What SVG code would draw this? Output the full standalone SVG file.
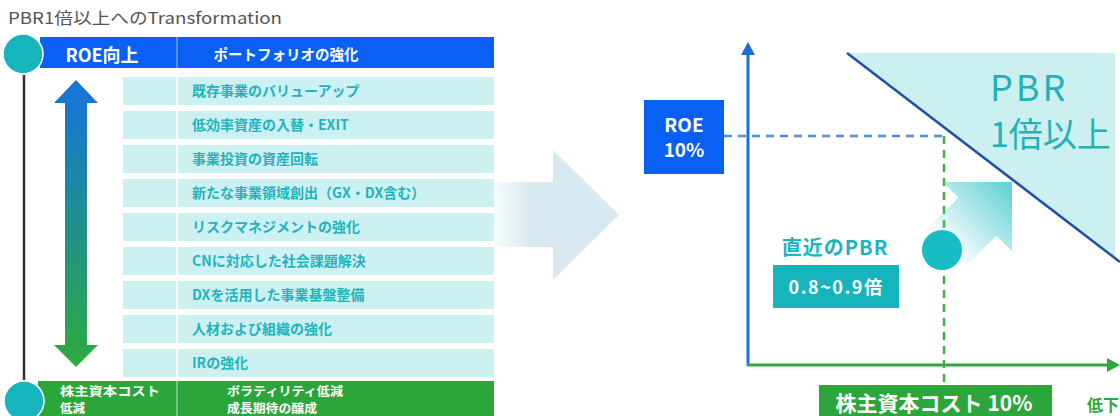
<svg xmlns="http://www.w3.org/2000/svg" width="1120" height="416" viewBox="0 0 1120 416">
<defs>
<style>
text{font-family:"Noto Sans CJK JP","Noto Sans",sans-serif}
.row{fill:#cdf0f0}
.rt{font-size:14px;font-weight:700;fill:#22b4be}
.wt{fill:#fff;font-weight:700}
.div{stroke:#fff;stroke-width:2}
</style>
<linearGradient id="dbl" x1="0" y1="80" x2="0" y2="367" gradientUnits="userSpaceOnUse">
<stop offset="0" stop-color="#1573dd"/>
<stop offset="1" stop-color="#2fab3f"/>
</linearGradient>
<linearGradient id="big" x1="494" y1="0" x2="530" y2="0" gradientUnits="userSpaceOnUse">
<stop offset="0" stop-color="#d8eaf0" stop-opacity="0.2"/>
<stop offset="1" stop-color="#d8eaf0"/>
</linearGradient>
<linearGradient id="diag" x1="0" y1="0" x2="-95" y2="0" gradientUnits="userSpaceOnUse">
<stop offset="0" stop-color="#5ccfd5"/>
<stop offset="1" stop-color="#5ccfd5" stop-opacity="0"/>
</linearGradient>
</defs>

<text x="8" y="24" font-size="16" fill="#555" textLength="274" lengthAdjust="spacingAndGlyphs">PBR1倍以上へのTransformation</text>

<g id="connectors">
<line x1="24" y1="75" x2="24" y2="380" stroke="#333" stroke-width="2.5"/>
<polygon points="76,80 98,103 87,103 87,345 98,345 76,367 54,345 65,345 65,103 54,103" fill="url(#dbl)"/>
<polygon points="494,182 553,182 553,150 619,215 553,280 553,247 494,247" fill="url(#big)"/>
</g>

<g id="top-bar">
<rect x="40" y="37" width="454" height="31" fill="#0a5ff5"/>
<line x1="177" y1="37" x2="177" y2="68" stroke="#6fa3ff" stroke-width="1.5"/>
<text class="wt" x="102" y="62" font-size="18" text-anchor="middle">ROE向上</text>
<text class="wt" x="286" y="60" font-size="14.5" text-anchor="middle">ポートフォリオの強化</text>
<circle cx="23" cy="54" r="20" fill="#16b5bd" stroke="#fff" stroke-width="1.5"/>
</g>

<g id="rows">
<rect class="row" x="123" y="77" width="371" height="28"/>
<rect class="row" x="123" y="111" width="371" height="28"/>
<rect class="row" x="123" y="145" width="371" height="28"/>
<rect class="row" x="123" y="179" width="371" height="28"/>
<rect class="row" x="123" y="213" width="371" height="28"/>
<rect class="row" x="123" y="247" width="371" height="28"/>
<rect class="row" x="123" y="281" width="371" height="28"/>
<rect class="row" x="123" y="315" width="371" height="28"/>
<rect class="row" x="123" y="349" width="371" height="28"/>
<line class="div" x1="177" y1="77" x2="177" y2="377"/>
<text class="rt" x="192" y="96">既存事業のバリューアップ</text>
<text class="rt" x="192" y="130">低効率資産の入替・EXIT</text>
<text class="rt" x="192" y="164">事業投資の資産回転</text>
<text class="rt" x="192" y="198">新たな事業領域創出（GX・DX含む）</text>
<text class="rt" x="192" y="232">リスクマネジメントの強化</text>
<text class="rt" x="192" y="266">CNに対応した社会課題解決</text>
<text class="rt" x="192" y="300">DXを活用した事業基盤整備</text>
<text class="rt" x="192" y="334">人材および組織の強化</text>
<text class="rt" x="192" y="368">IRの強化</text>
</g>

<g id="bottom-bar">
<rect x="38" y="381" width="456" height="35" fill="#2ba63b"/>
<line x1="177" y1="381" x2="177" y2="416" stroke="#8fd19a" stroke-width="1.5"/>
<text class="wt" x="60" y="396" font-size="12.5" textLength="100" lengthAdjust="spacingAndGlyphs">株主資本コスト</text>
<text class="wt" x="60" y="413" font-size="12.5">低減</text>
<text class="wt" x="227" y="396" font-size="12.5" textLength="116" lengthAdjust="spacingAndGlyphs">ボラティリティ低減</text>
<text class="wt" x="227" y="413" font-size="12.5" textLength="90" lengthAdjust="spacingAndGlyphs">成長期待の醸成</text>
<circle cx="24" cy="401" r="20" fill="#16b5bd" stroke="#fff" stroke-width="1.5"/>
</g>

<g id="chart">
<polygon points="847,53 1115,53 1115,258" fill="#ccf0f0"/>
<line x1="847" y1="53" x2="1120" y2="262" stroke="#1f50a6" stroke-width="2.5"/>
<text x="990" y="101" font-size="36" fill="#1fb3b8" letter-spacing="3">PBR</text>
<text x="990" y="147" font-size="34" fill="#1fb3b8">1倍以上</text>
<line x1="748" y1="52" x2="748" y2="366" stroke="#1a6fd9" stroke-width="3"/>
<polygon points="748,42 741,55 755,55" fill="#1a6fd9"/>
<line x1="747" y1="365" x2="1110" y2="365" stroke="#2ea83c" stroke-width="3"/>
<polygon points="1120,365 1107,358 1107,372" fill="#2ea83c"/>
<line x1="724" y1="136" x2="944" y2="136" stroke="#4a90e2" stroke-width="2.5" stroke-dasharray="8 6"/>
<line x1="944" y1="136" x2="944" y2="385" stroke="#3cb043" stroke-width="2.5" stroke-dasharray="8 6"/>
<g transform="translate(1012,182) rotate(-45)">
<polygon points="0,0 -49,-49 -49,-27 -100,-27 -100,27 -49,27 -49,49" fill="url(#diag)"/>
</g>
<circle cx="942" cy="250" r="20" fill="#17bcc4"/>
</g>

<g id="roe-box">
<rect x="644" y="100" width="80" height="74" fill="#0a5ff5"/>
<text class="wt" x="684" y="132" font-size="19" text-anchor="middle">ROE</text>
<text class="wt" x="684" y="157" font-size="19" text-anchor="middle">10%</text>
</g>

<g id="current-pbr">
<text x="835" y="255" font-size="20" font-weight="700" fill="#20b5be" text-anchor="middle" letter-spacing="1">直近のPBR</text>
<rect x="773" y="265" width="126" height="43" fill="#16b5bd"/>
<text class="wt" x="836" y="294" font-size="18" text-anchor="middle" letter-spacing="1.5">0.8~0.9倍</text>
</g>

<g id="cost-box">
<rect x="819" y="385" width="233" height="31" fill="#2ba63b"/>
<text class="wt" x="934" y="411" font-size="21" text-anchor="middle">株主資本コスト 10%</text>
</g>

<text x="1087" y="411" font-size="16" font-weight="700" fill="#2ea83c">低下</text>
</svg>
